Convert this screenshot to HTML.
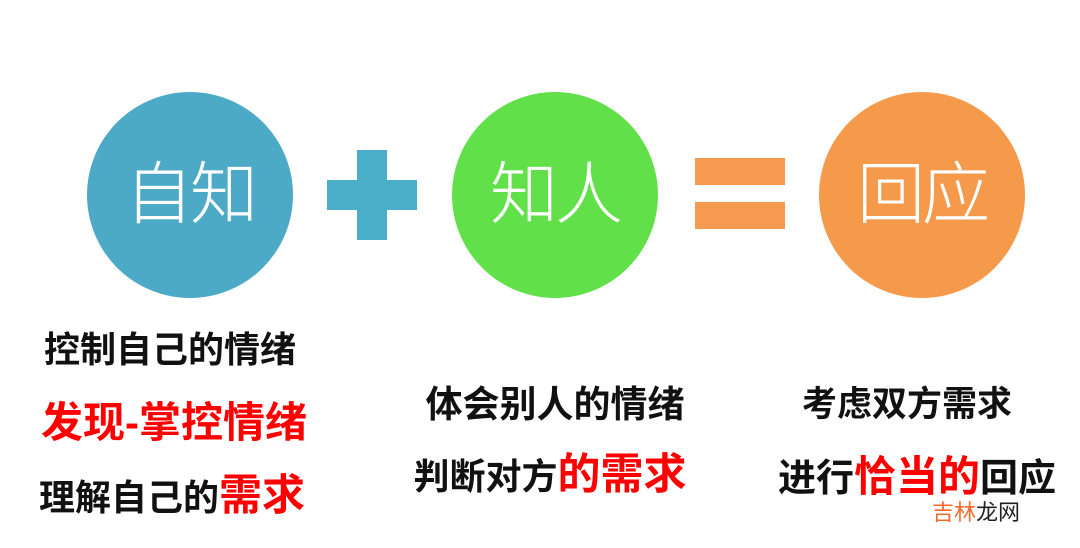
<!DOCTYPE html>
<html><head><meta charset="utf-8"><style>
body{margin:0;width:1080px;height:548px;background:#fff;position:relative;overflow:hidden;font-family:"Liberation Sans","Noto Sans CJK SC",sans-serif}
.c{position:absolute;width:206px;height:206px;border-radius:50%;color:#fff;font-size:68px;line-height:206px;text-align:center;font-weight:300;letter-spacing:-3px}
.t{position:absolute;white-space:nowrap;font-weight:bold;color:#111;font-size:36px;line-height:40px;transform:translateX(-50%)}
.r{color:#ff0000}
.b{font-size:43px}
.r2{position:absolute;background:#4aaec8}
.e{position:absolute;background:#f59a4e}
</style></head><body>
<div class="c" style="left:87px;top:92px;background:#4daac7">自知</div>
<div class="c" style="left:452px;top:92px;background:#62e04a">知人</div>
<div class="c" style="left:819px;top:92px;background:#f5994b">回应</div>
<div class="r2" style="left:327px;top:180px;width:90px;height:30px"></div>
<div class="r2" style="left:357px;top:150px;width:30px;height:90px"></div>
<div class="e" style="left:695px;top:158px;width:90px;height:27px"></div>
<div class="e" style="left:695px;top:202px;width:90px;height:27px"></div>
<div class="t" style="left:170px;top:330px">控制自己的情绪</div>
<div class="t r" style="left:174px;top:400px;font-size:42px;line-height:46px">发现-掌控情绪</div>
<div class="t" style="left:172px;top:476px">理解自己的<span class="r b">需求</span></div>
<div class="t" style="left:555px;top:385px;font-size:37px">体会别人的情绪</div>
<div class="t" style="left:550px;top:455px">判断对方<span class="r b">的需求</span></div>
<div class="t" style="left:907px;top:385px;font-size:35px">考虑双方需求</div>
<div class="t" style="left:917px;top:457px;font-size:38px">进行<span class="r" style="font-size:42px">恰当的</span>回应</div>
<div style="position:absolute;left:932px;top:500px;font-size:22px;line-height:26px;white-space:nowrap"><span style="color:#f26a2a">吉林</span><span style="color:#222">龙网</span></div>
</body></html>
